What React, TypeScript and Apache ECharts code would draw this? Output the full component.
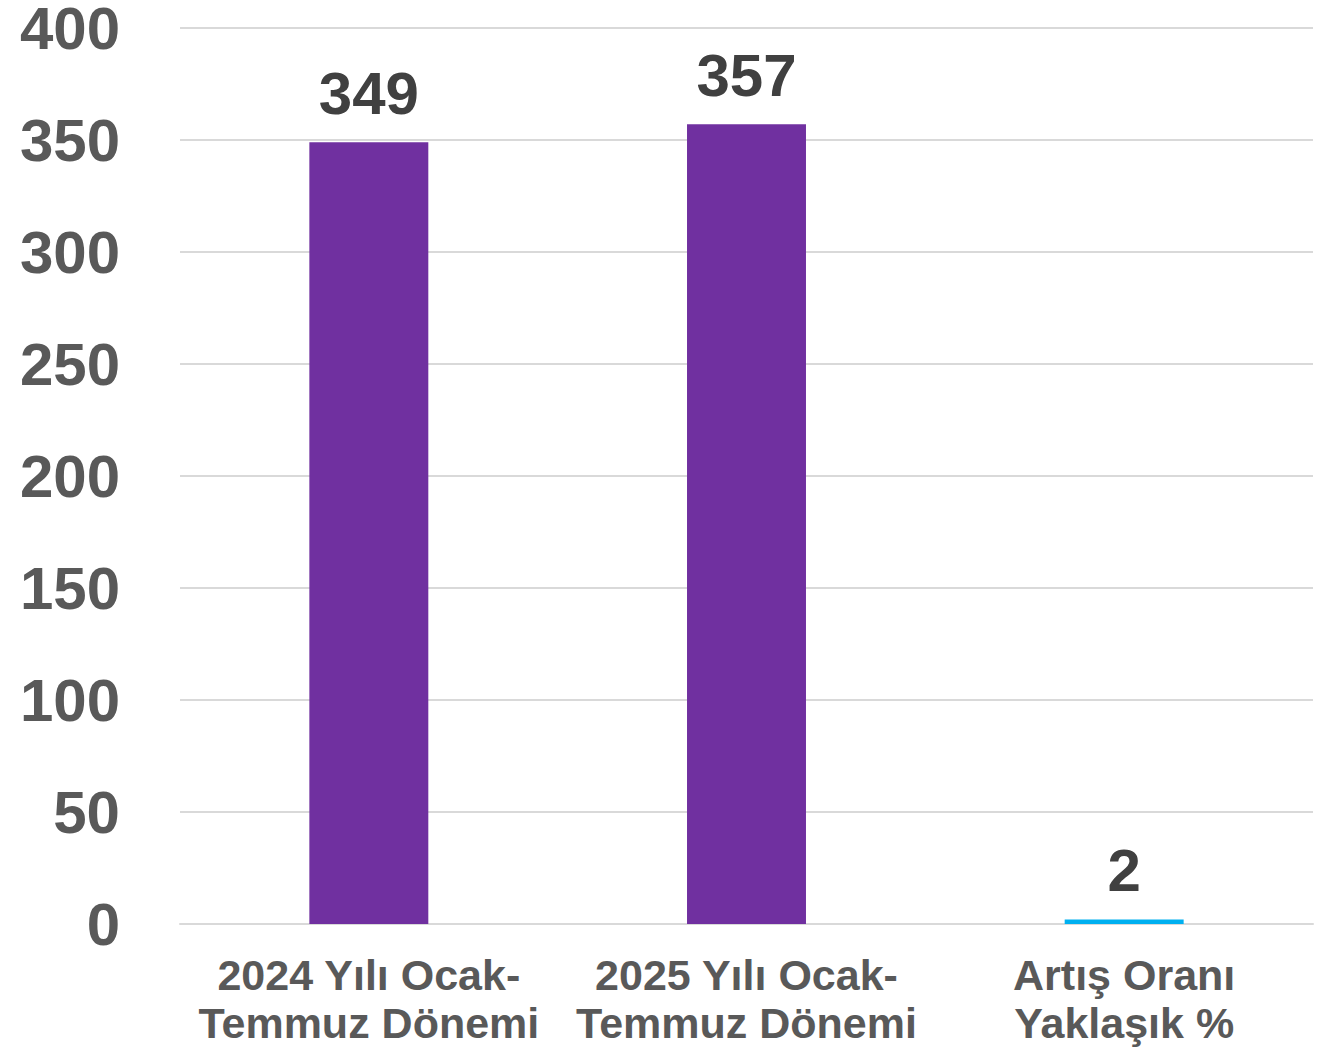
import React, { useEffect, useRef } from "react";
import * as echarts from "echarts";

const categories = ["2024 Yılı Ocak-\nTemmuz Dönemi", "2025 Yılı Ocak-\nTemmuz Dönemi", "Artış Oranı\nYaklaşık %"];
const values = [349, 357, 2];
const barColors = ["#7030A0", "#7030A0", "#00B0F0"];
const yTicks = { min: 0, max: 400, interval: 50 };

export default function App() {
  const ref = useRef<HTMLDivElement>(null);
  useEffect(() => {
    if (!ref.current) return;
    const chart = echarts.init(ref.current, null, { renderer: "svg" });
    const font = "'Liberation Sans', Arial, sans-serif";
    chart.setOption({
      animation: false,
      backgroundColor: "#ffffff",
      grid: { left: 180, right: 24, top: 28, bottom: 125, containLabel: false, outerBoundsMode: "none" },
      xAxis: {
        type: "category",
        data: categories,
        axisTick: { show: false },
        axisLine: { show: true, lineStyle: { color: "#D9D9D9", width: 2 } },
        axisLabel: {
          color: "#595959",
          fontSize: 43,
          fontWeight: "bold",
          fontFamily: font,
          lineHeight: 48,
          margin: 27,
          interval: 0,
        },
      },
      yAxis: {
        type: "value",
        min: yTicks.min,
        max: yTicks.max,
        interval: yTicks.interval,
        axisLine: { show: false },
        axisTick: { show: false },
        splitLine: { lineStyle: { color: "#D9D9D9", width: 2 } },
        axisLabel: {
          color: "#595959",
          fontSize: 60,
          lineHeight: 54,
          fontWeight: "bold",
          fontFamily: font,
          margin: 60,
        },
      },
      series: [
        {
          type: "bar",
          barWidth: "31.5%",
          data: values.map((v, i) => ({ value: v, itemStyle: { color: barColors[i] } })),
          label: {
            show: true,
            position: "top",
            distance: 19,
            color: "#404040",
            fontSize: 60,
            fontWeight: "bold",
            fontFamily: font,
          },
        },
      ],
    });
    return () => chart.dispose();
  }, []);
  return (
    <div
      ref={ref}
      style={{ position: "fixed", left: 0, top: 0, width: 1337, height: 1049, background: "#ffffff" }}
    />
  );
}
